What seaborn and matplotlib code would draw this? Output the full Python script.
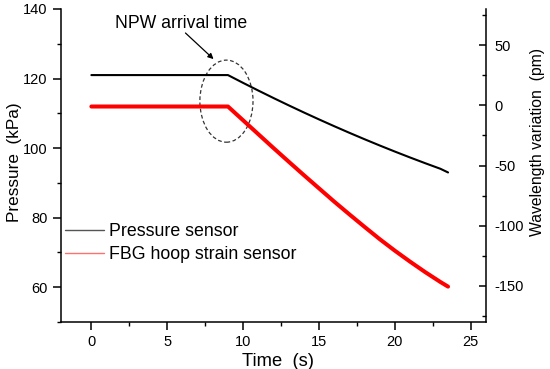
import matplotlib
matplotlib.use("Agg")
import matplotlib.pyplot as plt
from matplotlib.patches import Ellipse
from matplotlib.ticker import MultipleLocator
import seaborn as sns
import pandas as pd

# ---- data ----
time_s = [0, 9, 10, 11, 12, 13, 14, 15, 16, 17, 18, 19, 20, 21, 22, 23, 23.5]
pressure_kpa = [121, 121, 118.75, 116.55, 114.4, 112.3, 110.25, 108.25, 106.3,
                104.4, 102.55, 100.75, 99.0, 97.3, 95.65, 94.05, 93.0]
wavelength_pm = [-1, -1, -12.5, -24, -35.5, -46.8, -58, -69, -80,
                 -90.6, -101, -111.2, -120.8, -129.9, -138.6, -146.8, -150.6]
series_names = ["Pressure sensor", "FBG hoop strain sensor"]
left_ticks = [60, 80, 100, 120, 140]
right_ticks = [-150, -100, -50, 0, 50]
x_ticks = [0, 5, 10, 15, 20, 25]

sns.set_theme(style="ticks")
plt.rcParams['font.family'] = ['Liberation Sans', 'DejaVu Sans']
plt.rcParams['text.color'] = 'black'
plt.rcParams['axes.labelcolor'] = 'black'
plt.rcParams['axes.unicode_minus'] = False

df_p = pd.DataFrame({"t": time_s, "v": pressure_kpa})
df_w = pd.DataFrame({"t": time_s, "v": wavelength_pm})

fig = plt.figure(figsize=(5.5, 3.69), dpi=100)
ax = fig.add_axes([61/550, 47/369, 425/550, 313/369])
ax2 = ax.twinx()

sns.lineplot(data=df_p, x="t", y="v", ax=ax, color="black", linewidth=1.5,
             label=series_names[0], legend=False)
sns.lineplot(data=df_w, x="t", y="v", ax=ax2, color="#ff0000", linewidth=2.9,
             label=series_names[1], legend=False)

ax.set_xlim(-2, 26)
ax.set_ylim(50, 140)
ax2.set_ylim(-180, 80)

ax.set_xticks(x_ticks)
ax.set_yticks(left_ticks)
ax2.set_yticks(right_ticks)
ax.xaxis.set_minor_locator(MultipleLocator(2.5))
ax.yaxis.set_minor_locator(MultipleLocator(10))
ax2.yaxis.set_minor_locator(MultipleLocator(25))

for a in (ax, ax2):
    for s in a.spines.values():
        s.set_linewidth(1.1)
        s.set_color("black")
    a.spines["top"].set_visible(False)
ax.spines["right"].set_visible(False)
ax2.spines["left"].set_visible(False)
ax2.spines["bottom"].set_visible(False)

ax.tick_params(axis="both", which="major", direction="out", length=5.5, width=1.1,
               labelsize=10.5, colors="black", pad=4)
ax.tick_params(axis="both", which="minor", direction="out", length=3, width=1.0,
               colors="black")
ax2.tick_params(axis="y", which="major", direction="in", length=5, width=1.1,
                labelsize=10.5, colors="black", pad=6)
ax2.tick_params(axis="y", which="minor", direction="in", length=3, width=1.0,
                colors="black")

ax.set_xlabel("Time  (s)", fontsize=13.2)
ax.xaxis.set_label_coords(0.51, -0.098)
ax.set_ylabel("Pressure  (kPa)", fontsize=12.3)
ax.yaxis.set_label_coords(-0.092, 0.51)
ax2.set_ylabel("Wavelength variation  (pm)", fontsize=11.3)
ax2.yaxis.set_label_coords(1.104, 0.575)

# annotation
ell = Ellipse((8.9, 113.5), width=3.5, height=23.6, fill=False,
              edgecolor="#333333", linestyle=(0, (3, 2)), linewidth=0.9)
ax.add_patch(ell)
ax.text(5.9, 135.7, "NPW arrival time", ha="center", va="center", fontsize=12.7)
ax.annotate("", xy=(8.05, 125.6), xytext=(6.2, 133.1),
            arrowprops=dict(arrowstyle="-|>", color="black", lw=0.9,
                            shrinkA=0, shrinkB=0, mutation_scale=8))

# legend
h1, l1 = ax.get_legend_handles_labels()
h2, l2 = ax2.get_legend_handles_labels()
leg = fig.legend(h1 + h2, l1 + l2, loc="upper left",
                 bbox_to_anchor=(65/550, 1 - 223/369), frameon=False,
                 fontsize=12.8, handlelength=2.2, handletextpad=0.3,
                 labelspacing=0.35, borderaxespad=0, borderpad=0)
for line in leg.get_lines():
    line.set_linewidth(1.0)
leg.get_lines()[0].set_color("#555555")
leg.get_lines()[1].set_color("#ff7070")

fig.savefig("out.png", dpi=100)
